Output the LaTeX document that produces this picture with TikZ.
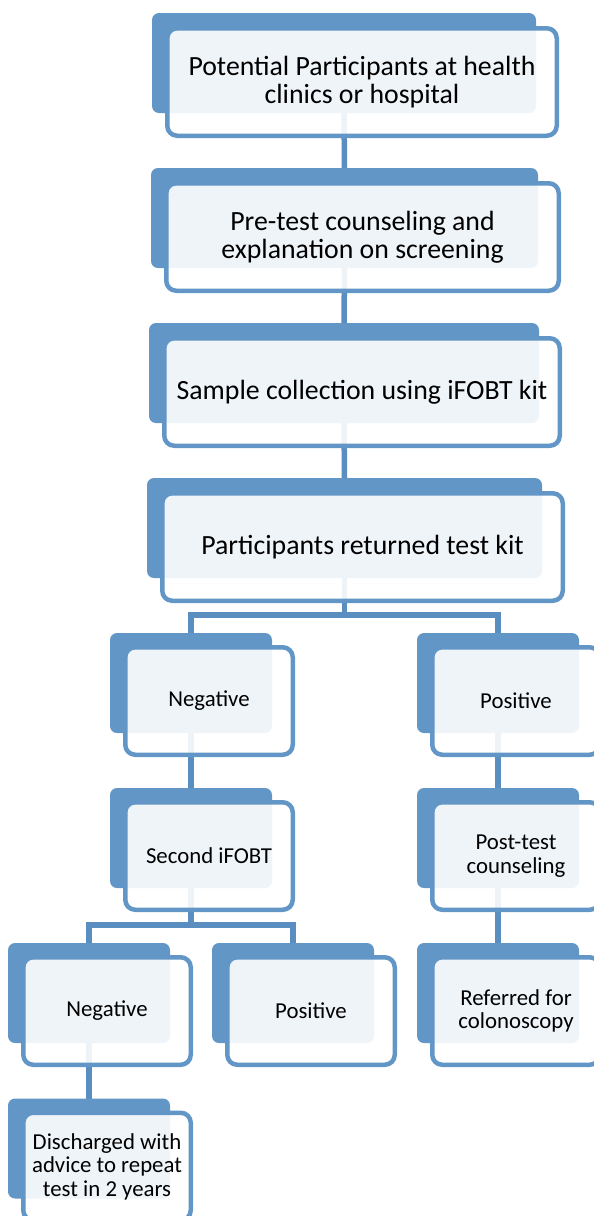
\documentclass[tikz,border=0pt]{standalone}
\usepackage{fontspec}
\setmainfont{Carlito}
\usepackage{tikz}
\usetikzlibrary{positioning,calc}
\usepackage{xcolor}
\definecolor{boxBlue}{RGB}{98,150,199}
\definecolor{lineBlue}{RGB}{90,142,192}

\begin{document}
\begin{tikzpicture}[
  x=1pt, y=-1pt,
  back/.style={rectangle, rounded corners=7pt, fill=boxBlue,
               minimum width=#1, minimum height=100pt,
               inner sep=0pt, outer sep=0pt},
  front/.style={rectangle, rounded corners=10pt, draw=boxBlue,
                line width=4.5pt, fill=white, fill opacity=0.9,
                text opacity=1, text=black, align=center,
                minimum width=#1+5.5pt, minimum height=107.5pt,
                inner sep=0pt, outer sep=0pt},
  big/.style={font=\fontsize{27.8pt}{28.5pt}\selectfont},
  small/.style={font=\fontsize{22.8pt}{23.5pt}\selectfont},
  conn/.style={draw=lineBlue, line width=5.5pt}
]
  \useasboundingbox (0,0) rectangle (594,1216);
  \clip (0,0) rectangle (594,1216);

  \node[back=384pt] (L1b) at (344,63) {};
  \node[back=387pt] (L2b) at (344.5,218) {};
  \node[back=390pt] (L3b) at (344,373) {};
  \node[back=395pt] (L4b) at (344.5,528) {};
  \node[back=162pt] (N1b) at (191,683) {};
  \node[back=162pt] (N2b) at (191,838) {};
  \node[back=162pt] (P1b) at (498,683) {};
  \node[back=162pt] (P2b) at (498,838) {};
  \node[back=162pt] (P3b) at (498,993) {};
  \node[back=162pt] (N3b) at (89,993) {};
  \node[back=162pt] (N4b) at (293,993) {};
  \node[back=162pt] (N5b) at (89,1148.5) {};

  \draw[conn] (L1b.south) -- (L2b.north);
  \draw[conn] (L2b.south) -- (L3b.north);
  \draw[conn] (L3b.south) -- (L4b.north);
  \draw[conn] (L4b.south) -- ++(0,37) coordinate (J1);
  \draw[conn] (N1b.north) |- (J1) -| (P1b.north);
  \draw[conn] (N1b.south) -- (N2b.north);
  \draw[conn] (P1b.south) -- (P2b.north);
  \draw[conn] (P2b.south) -- (P3b.north);
  \draw[conn] (N2b.south) -- ++(0,37) coordinate (J2);
  \draw[conn] (N3b.north) |- (J2) -| (N4b.north);
  \draw[conn] (N3b.south) -- (N5b.north);

  \node[front=384pt, big] (L1) at ($(L1b)+(18,19)$)
    {Potential Participants at health\\clinics or hospital};
  \node[front=387pt, big] (L2) at ($(L2b)+(18,19)$)
    {Pre-test counseling and\\explanation on screening};
  \node[front=390pt, big] (L3) at ($(L3b)+(18,19)$)
    {Sample collection using iFOBT kit};
  \node[front=395pt, big] (L4) at ($(L4b)+(18,19)$)
    {Participants returned test kit};
  \node[front=162pt, small] (N1) at ($(N1b)+(18,18)$) {Negative};
  \node[front=162pt, small] (N2) at ($(N2b)+(18,18)$) {Second iFOBT};
  \node[front=162pt, small] (P1) at ($(P1b)+(18,18)$) {Positive};
  \node[front=162pt, small] (P2) at ($(P2b)+(18,18)$)
    {Post-test\\counseling};
  \node[front=162pt, small] (P3) at ($(P3b)+(18,18)$)
    {Referred for\\colonoscopy};
  \node[front=162pt, small] (N3) at ($(N3b)+(18,18)$) {Negative};
  \node[front=162pt, small] (N4) at ($(N4b)+(18,18)$) {Positive};
  \node[front=162pt, small] (N5) at ($(N5b)+(18,18)$)
    {Discharged with\\advice to repeat\\test in 2 years};
\end{tikzpicture}
\end{document}
